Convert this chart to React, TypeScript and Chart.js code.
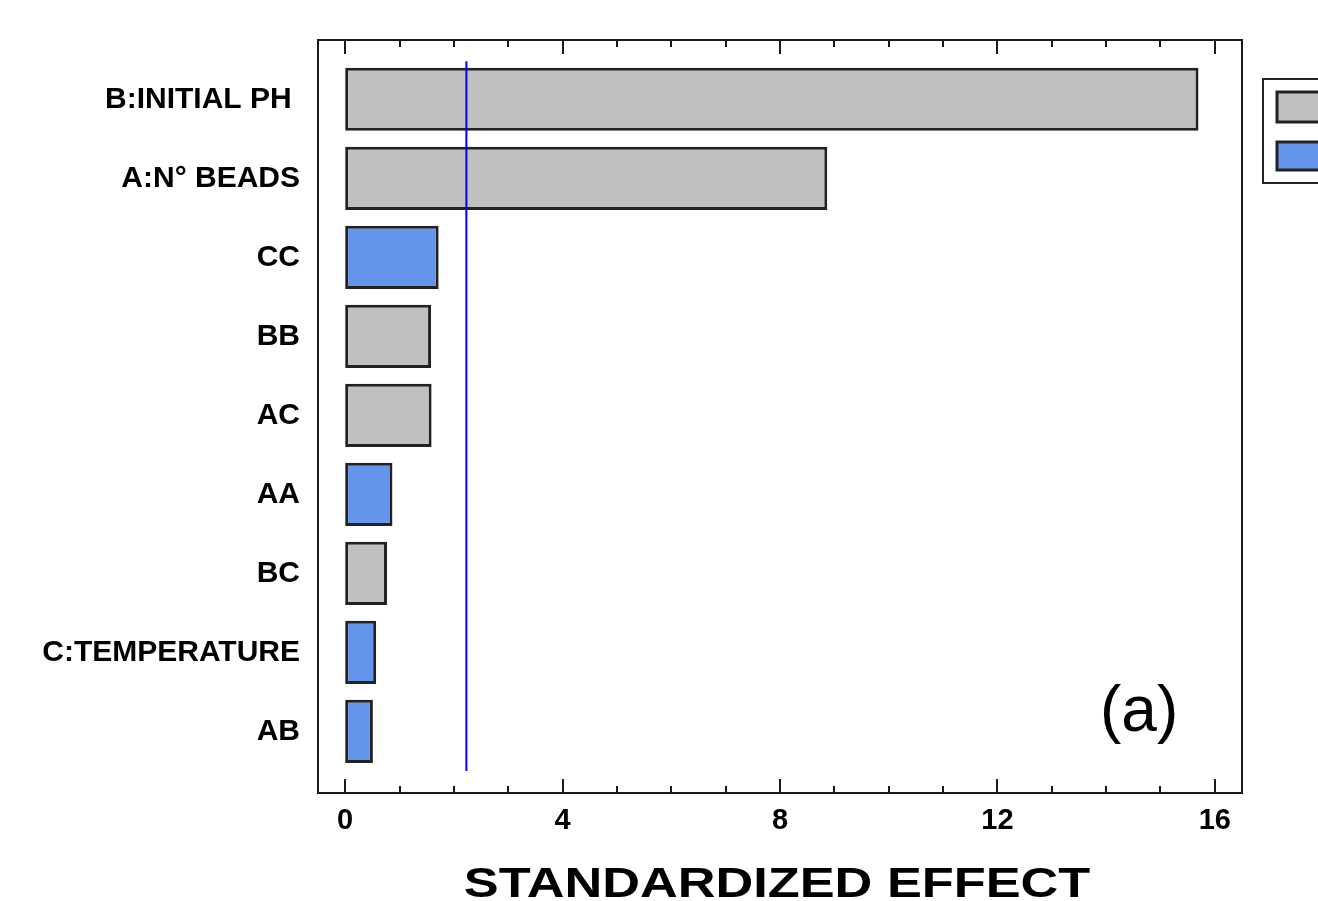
import React, { useEffect, useRef } from "react";
import { Chart, registerables } from "chart.js";

Chart.register(...registerables);

const categories = [
  "B:INITIAL PH ",
  "A:N° BEADS",
  "CC",
  "BB",
  "AC",
  "AA",
  "BC",
  "C:TEMPERATURE",
  "AB",
];
const effects = [15.7, 8.87, 1.72, 1.58, 1.59, 0.87, 0.77, 0.57, 0.51];
const signs = ["+", "+", "-", "+", "+", "-", "+", "-", "-"];
const criticalValue = 2.23;
const xTickLabels = [0, 4, 8, 12, 16];
const legendLabels = ["+", "-"];

const POS_COLOR = "#c0c0c0";
const NEG_COLOR = "#6495ed";

export default function App() {
  const ref = useRef<HTMLCanvasElement | null>(null);

  useEffect(() => {
    document.body.style.margin = "0";
    document.body.style.overflow = "hidden";
    const canvas = ref.current;
    if (!canvas) return;

    const framePlugin = {
      id: "framePlugin",
      afterDraw(chart: any) {
        const ctx = chart.ctx;
        const { left, right, top, bottom } = chart.chartArea;
        const xs = chart.scales.x;
        ctx.save();
        ctx.strokeStyle = "#1a1a1a";
        ctx.lineWidth = 2;
        ctx.strokeRect(left, top, right - left, bottom - top);
        for (let v = 0; v <= 16; v++) {
          const px = Math.round(xs.getPixelForValue(v));
          const len = v % 4 === 0 ? 14 : 7;
          ctx.beginPath();
          ctx.moveTo(px, bottom);
          ctx.lineTo(px, bottom - len);
          ctx.moveTo(px, top);
          ctx.lineTo(px, top + len);
          ctx.stroke();
        }
        const lx = right + 21;
        ctx.strokeStyle = "#222";
        ctx.lineWidth = 2;
        ctx.strokeRect(lx, 79, 90, 104);
        const colors = [POS_COLOR, NEG_COLOR];
        const boxes = [
          [92, 30],
          [142, 28],
        ];
        colors.forEach((c, i) => {
          ctx.fillStyle = c;
          ctx.fillRect(lx + 14, boxes[i][0], 60, boxes[i][1]);
          ctx.lineWidth = 3;
          ctx.strokeStyle = "#222";
          ctx.strokeRect(lx + 14, boxes[i][0], 60, boxes[i][1]);
          ctx.fillStyle = "#000";
          ctx.font = "bold 24px 'Liberation Sans', Arial, sans-serif";
          ctx.textBaseline = "middle";
          ctx.fillText(legendLabels[i], lx + 82, boxes[i][0] + boxes[i][1] / 2);
        });
        ctx.fillStyle = "#000";
        ctx.font = "64px 'Liberation Sans', Arial, sans-serif";
        ctx.textBaseline = "alphabetic";
        ctx.textAlign = "left";
        ctx.fillText("(a)", right - 142, bottom - 62);
        ctx.font = "bold 42px 'Liberation Sans', Arial, sans-serif";
        ctx.textAlign = "center";
        const cx = (left + right) / 2 - 3;
        ctx.translate(cx, 897);
        ctx.scale(1.245, 1);
        ctx.fillText("STANDARDIZED EFFECT", 0, 0);
        ctx.restore();
      },
    };

    const chart = new Chart(canvas, {
      type: "bar",
      data: {
        datasets: [
          {
            type: "line",
            label: "critical",
            data: [
              { x: criticalValue, y: -0.48 },
              { x: criticalValue, y: 8.5 },
            ],
            borderColor: "#0000ff",
            borderWidth: 2,
            pointRadius: 0,
            indexAxis: "y",
            order: 0,
          } as any,
          {
            type: "bar",
            label: "effects",
            data: effects.map((v, i) => ({ x: v, y: i })),
            backgroundColor: signs.map((s) => (s === "+" ? POS_COLOR : NEG_COLOR)),
            borderColor: "#222",
            borderWidth: 3,
            borderSkipped: false,
            barPercentage: 0.8,
            categoryPercentage: 1,
            order: 1,
          } as any,
        ],
      },
      options: {
        indexAxis: "y",
        animation: false,
        responsive: false,
        devicePixelRatio: 1,
        layout: { padding: { left: 0, top: 40, right: 76, bottom: 0 } },
        plugins: {
          legend: { display: false },
          tooltip: { enabled: false },
          title: { display: false },
        },
        scales: {
          x: {
            type: "linear",
            position: "bottom",
            min: -0.5,
            max: 16.5,
            offset: false,
            afterBuildTicks: (s: any) => {
              s.ticks = xTickLabels.map((v) => ({ value: v }));
            },
            afterFit: (s: any) => {
              s.height = 108;
            },
            grid: { display: false, drawTicks: false },
            border: { display: false },
            ticks: {
              color: "#000",
              padding: 11,
              font: { family: "'Liberation Sans', Arial, sans-serif", size: 29, weight: "bold" },
              callback: (v: any) => String(v),
            },
          },
          y: {
            type: "linear",
            reverse: true,
            min: -0.75,
            max: 8.78,
            offset: false,
            afterBuildTicks: (s: any) => {
              s.ticks = categories.map((_, i) => ({ value: i }));
            },
            afterFit: (s: any) => {
              s.width = 318;
            },
            grid: { display: false, drawTicks: false },
            border: { display: false },
            ticks: {
              color: "#000",
              padding: 18,
              autoSkip: false,
              font: { family: "'Liberation Sans', Arial, sans-serif", size: 30, weight: "bold" },
              callback: (v: any) => categories[v] ?? "",
            },
          },
        },
      },
      plugins: [framePlugin],
    } as any);

    return () => chart.destroy();
  }, []);

  return (
    <div style={{ width: 1318, height: 901 }}>
      <canvas ref={ref} width={1318} height={901} style={{ display: "block" }} />
    </div>
  );
}
